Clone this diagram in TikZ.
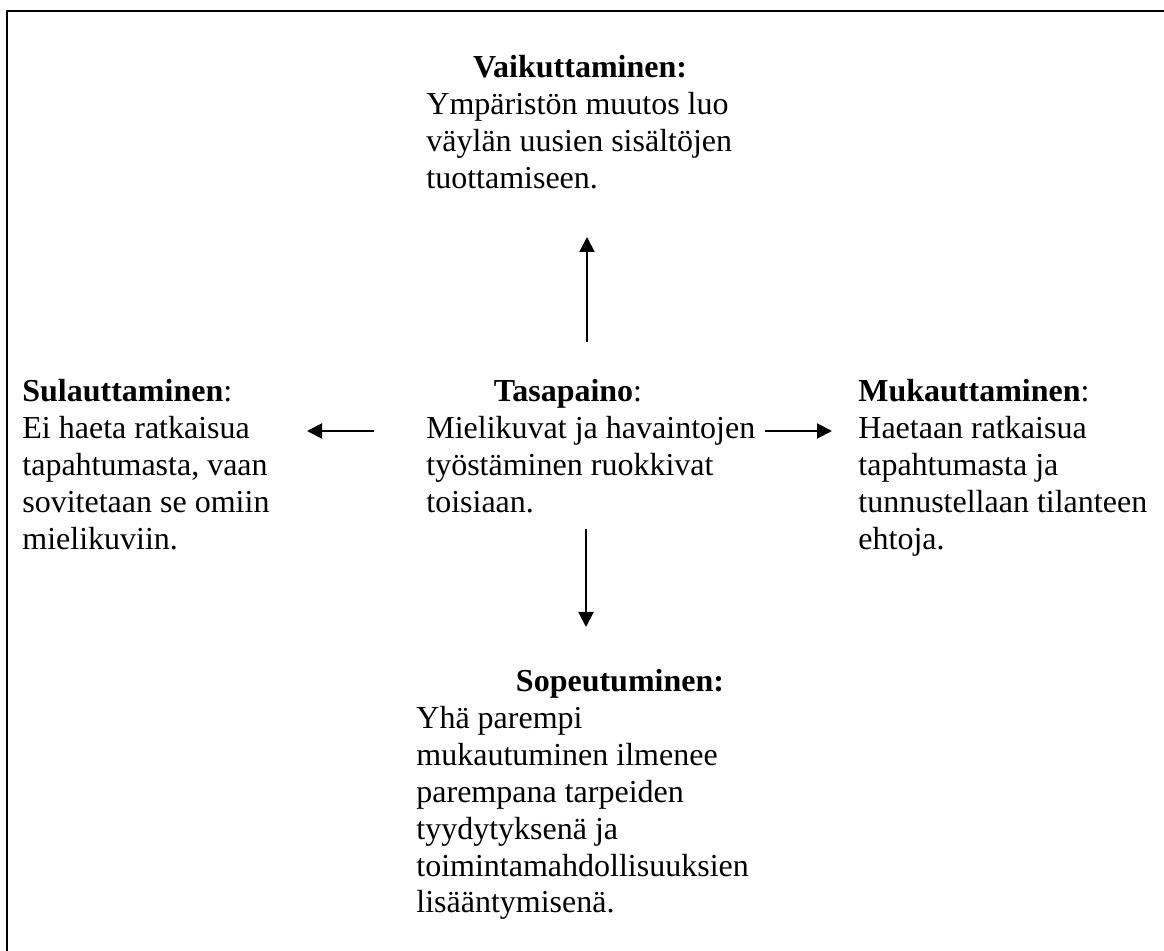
\documentclass[tikz,border=0pt]{standalone}
\usepackage{fontspec}
\setmainfont{Liberation Serif}
\usetikzlibrary{arrows.meta}
% Tekstipalsta, jonka perusviiva on ensimmäisellä rivillä
\newcommand{\palsta}[1]{\begin{tabular}[t]{@{}l@{}}#1\end{tabular}}
\begin{document}
\begin{tikzpicture}[x=0.5pt, y=-0.5pt, line join=round, >={Triangle[length=7.5pt, width=7.5pt]}, font=\fontsize{16}{18.4}\selectfont]
	\tikzset{
		otsikko/.style={font=\fontsize{16}{18.4}\selectfont\bfseries, inner sep=0pt, anchor=base},
		teksti/.style={inner sep=0pt, anchor=base west},
		nuoli/.style={->, line width=1pt}
	}
	% Kuvan rajat
	\useasboundingbox (0,0) rectangle (1164,951);
	% Kehys
	\draw[line width=1pt] (7,960) -- (7,11) -- (1170,11);
	% Ylhäällä
	\node[otsikko] (vaikH) at (580,78) {Vaikuttaminen:};
	\node[teksti] (vaik) at (426,115) {\palsta{Ympäristön muutos luo\\väylän uusien sisältöjen\\tuottamiseen.}};
	% Keskellä
	\node[otsikko] (tasaH) at (568,402) {Tasapaino\textmd{:}};
	\node[teksti] (tasa) at (426,439) {\palsta{Mielikuvat ja havaintojen\\työstäminen ruokkivat\\toisiaan.}};
	% Vasemmalla
	\node[otsikko, anchor=base west] (sulaH) at (22,402) {Sulauttaminen\textmd{:}};
	\node[teksti] (sula) at (22,439) {\palsta{Ei haeta ratkaisua\\tapahtumasta, vaan\\sovitetaan se omiin\\mielikuviin.}};
	% Oikealla
	\node[otsikko, anchor=base west] (mukaH) at (858,402) {Mukauttaminen\textmd{:}};
	\node[teksti] (muka) at (858,439) {\palsta{Haetaan ratkaisua\\tapahtumasta ja\\tunnustellaan tilanteen\\ehtoja.}};
	% Alhaalla
	\node[otsikko] (sopeH) at (620,692) {Sopeutuminen:};
	\node[teksti] (sope) at (416,729) {\palsta{Yhä parempi\\mukautuminen ilmenee\\parempana tarpeiden\\tyydytyksenä ja\\toimintamahdollisuuksien\\lisääntymisenä.}};
	% Nuolten päät
	\coordinate (ylos1) at (587,342);
	\coordinate (ylos2) at (587,237);
	\coordinate (alas1) at (586,529);
	\coordinate (alas2) at (586,627);
	\coordinate (vas1) at (374,431);
	\coordinate (vas2) at (307,431);
	\coordinate (oik1) at (765,431);
	\coordinate (oik2) at (832,431);
	% Nuolet
	\draw[nuoli] (ylos1) -- (ylos2);
	\draw[nuoli] (alas1) -- (alas2);
	\draw[nuoli] (vas1) -- (vas2);
	\draw[nuoli] (oik1) -- (oik2);
\end{tikzpicture}
\end{document}
